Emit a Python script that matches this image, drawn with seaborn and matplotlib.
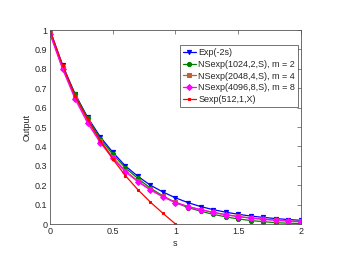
import numpy as np
import pandas as pd
import matplotlib
matplotlib.use("Agg")
import matplotlib.pyplot as plt
import seaborn as sns

s = [0.0, 0.1, 0.2, 0.3, 0.4, 0.5, 0.6, 0.7, 0.8, 0.9, 1.0,
     1.1, 1.2, 1.3, 1.4, 1.5, 1.6, 1.7, 1.8, 1.9, 2.0]
s_red = [0.0, 0.1, 0.2, 0.3, 0.4, 0.5, 0.6, 0.7, 0.8, 0.9, 1.0]

exp_vals = [1.0, 0.82, 0.67, 0.55, 0.45, 0.37, 0.30, 0.246, 0.20, 0.165, 0.135,
            0.11, 0.09, 0.074, 0.061, 0.05, 0.041, 0.034, 0.028, 0.023, 0.019]
ns2_vals = [0.99, 0.81, 0.67, 0.545, 0.44, 0.36, 0.29, 0.235, 0.185, 0.145, 0.11,
            0.085, 0.066, 0.05, 0.037, 0.026, 0.018, 0.012, 0.007, 0.004, 0.003]
ns4_vals = [0.985, 0.805, 0.655, 0.53, 0.43, 0.345, 0.275, 0.222, 0.178, 0.142, 0.112,
            0.09, 0.074, 0.06, 0.048, 0.039, 0.031, 0.025, 0.02, 0.016, 0.013]
ns8_vals = [0.98, 0.80, 0.645, 0.52, 0.42, 0.34, 0.27, 0.218, 0.175, 0.14, 0.11,
            0.09, 0.074, 0.06, 0.048, 0.038, 0.03, 0.024, 0.019, 0.015, 0.012]
sexp_vals = [1.0, 0.82, 0.66, 0.54, 0.43, 0.335, 0.25, 0.177, 0.113, 0.055, 0.0]

labels = ["Exp(-2s)", "NSexp(1024,2,S), m = 2", "NSexp(2048,4,S), m = 4",
          "NSexp(4096,8,S), m = 8", "Sexp(512,1,X)"]

sns.set_style("white")
plt.rcParams['font.family'] = ['Liberation Sans', 'DejaVu Sans']

fig = plt.figure(figsize=(3.41, 2.64), dpi=100)
ax = fig.add_axes([0.1466, 0.1515, 0.7361, 0.7345])

series = [
    (s, exp_vals, labels[0], (0, 0, 1), 'v'),
    (s, ns2_vals, labels[1], (0, 0.5, 0), 'o'),
    (s, ns4_vals, labels[2], (0.75, 0.38, 0.2), 's'),
    (s, ns8_vals, labels[3], (1, 0, 1), 'D'),
    (s_red, sexp_vals, labels[4], (1, 0, 0), 's'),
]
for xs, ys, lab, col, mk in series:
    df = pd.DataFrame({"s": xs, "Output": ys})
    ms = 1.8 if lab.startswith("Sexp") else 3.0
    sns.lineplot(data=df, x="s", y="Output", ax=ax, color=col, marker=mk,
                 markersize=ms, markeredgecolor=col, linewidth=0.9, label=lab)

ax.set_xlim(0, 2)
ax.set_ylim(0, 1)
ax.set_xticks([0, 0.5, 1, 1.5, 2])
ax.set_xticklabels(["0", "0.5", "1", "1.5", "2"])
ax.set_yticks([0, 0.1, 0.2, 0.3, 0.4, 0.5, 0.6, 0.7, 0.8, 0.9, 1])
ax.set_yticklabels(["0", "0.1", "0.2", "0.3", "0.4", "0.5", "0.6", "0.7", "0.8", "0.9", "1"])
ax.tick_params(direction='in', length=3, labelsize=6.5, width=0.5, color='#555555',
               top=True, right=True, pad=2)
ax.set_xlabel("s", fontsize=6.5, labelpad=2)
ax.set_ylabel("Output", fontsize=6.5, labelpad=2)
for sp in ax.spines.values():
    sp.set_color('#555555')
    sp.set_linewidth(0.6)

leg = ax.legend(loc='upper right', bbox_to_anchor=(0.995, 0.93), fontsize=6.5,
                frameon=True, fancybox=False, handlelength=1.4, handletextpad=0.3,
                borderpad=0.3, labelspacing=0.3, borderaxespad=0.2)
leg.get_frame().set_edgecolor('#333333')
leg.get_frame().set_linewidth(0.6)

fig.savefig("out.png", dpi=100)
